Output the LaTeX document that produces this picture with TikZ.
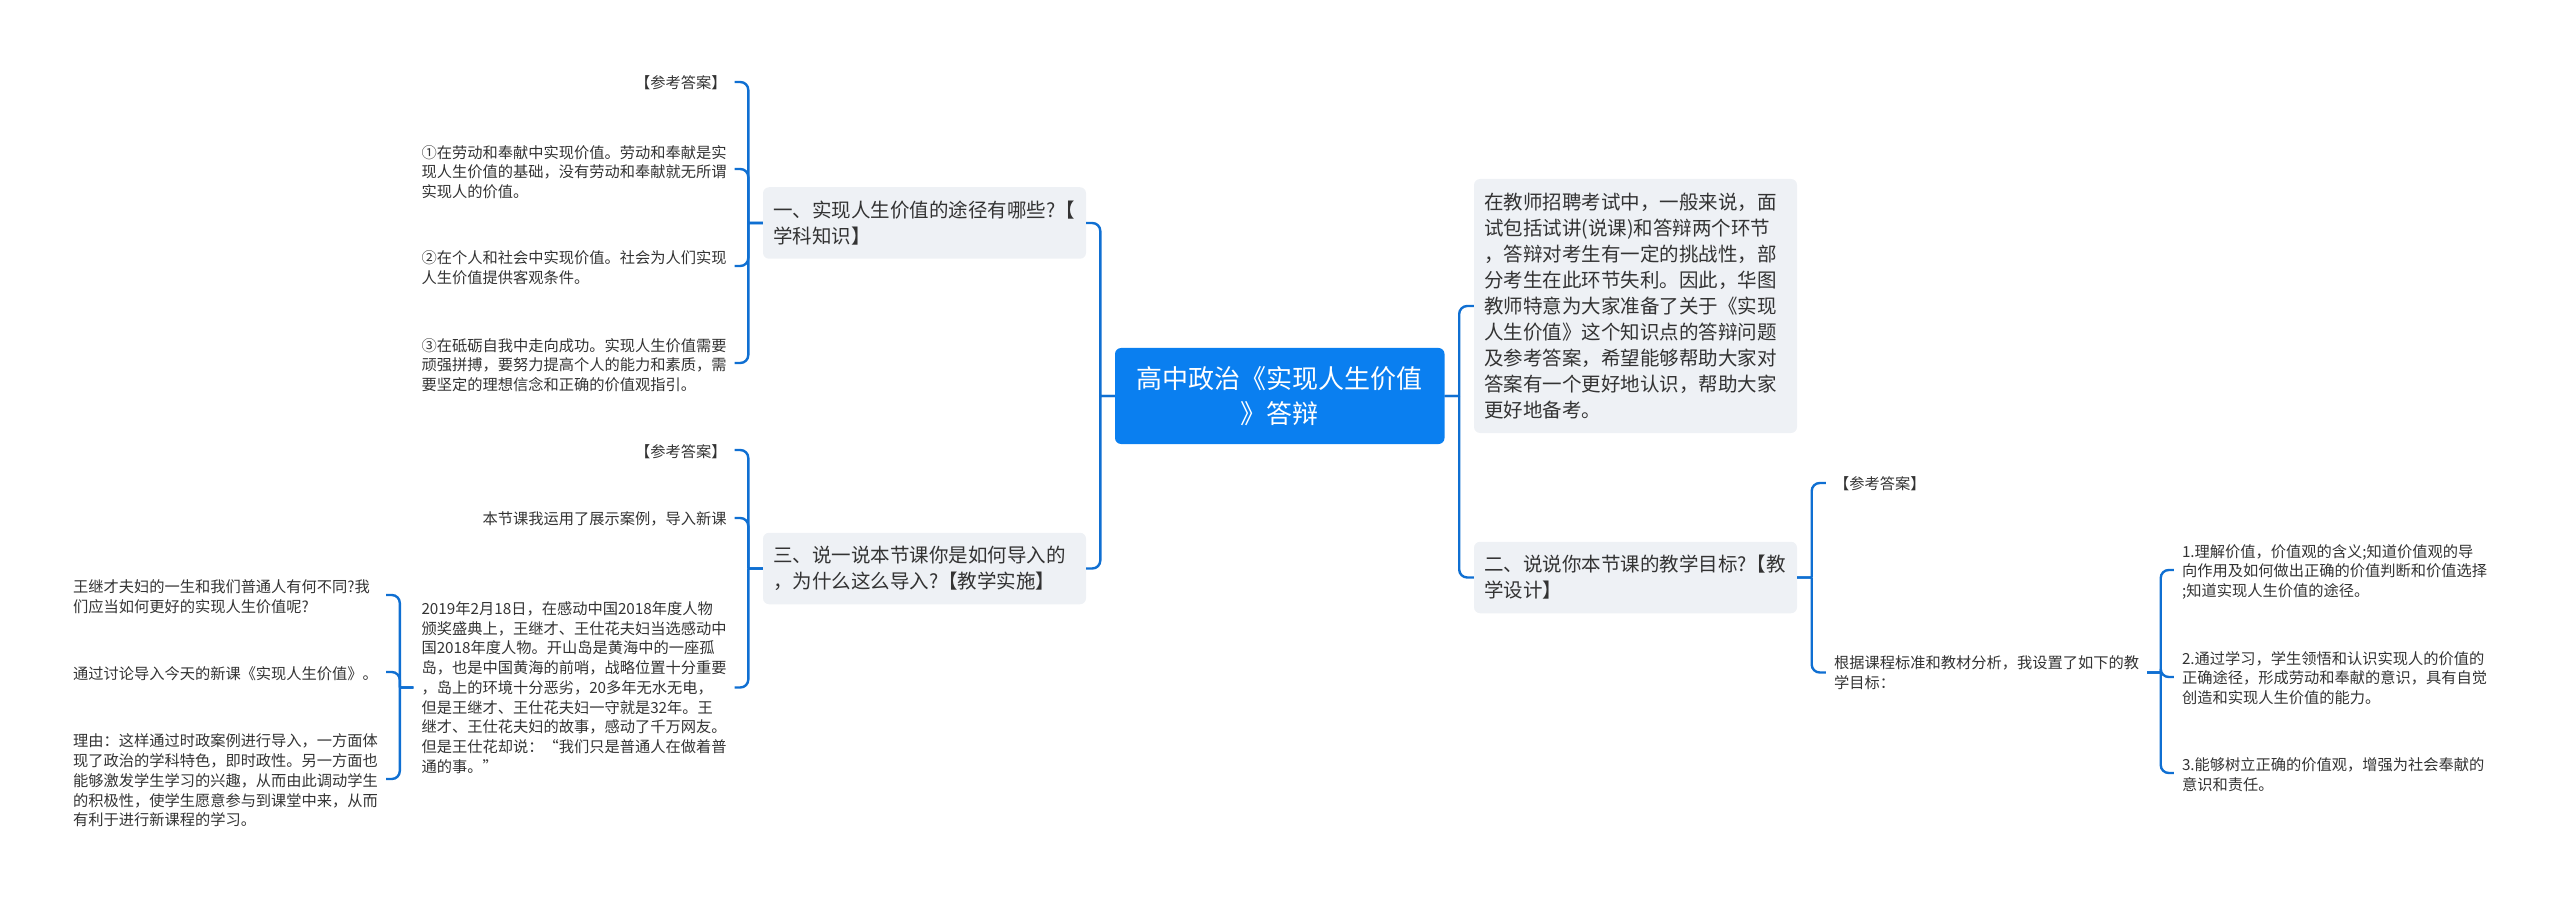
\documentclass[tikz,border=0pt]{standalone}
\usepackage{fontspec}
\setmainfont{Noto Sans CJK SC}
\definecolor{rootblue}{HTML}{0A7FF0}
\definecolor{linkblue}{HTML}{0F6FD2}
\definecolor{topicgray}{HTML}{EEF1F5}
\definecolor{inkgray}{HTML}{333333}
\newcommand{\zhc}{\symbol{"FF0C}}
\newcommand{\zhk}{\symbol{"FF1A}}

\begin{document}
\begin{tikzpicture}[x=1pt,y=-1pt,auto,
every edge/.style={draw=linkblue,line width=2.4pt},
fork/.style={to path={-- ++(#1,0) ++(0,0) [rounded corners=8pt] |- (\tikztotarget)}},
root node/.style={rectangle,rounded corners=6pt,fill=rootblue,text=white,align=center,text width=309.5pt,inner xsep=10pt,inner ysep=0pt,minimum height=96pt,font=\fontsize{26}{34.5}\selectfont},
topic node/.style={rectangle,rounded corners=6pt,fill=topicgray,text=inkgray,align=left,text width=303pt,inner xsep=10pt,inner ysep=0pt,minimum height=71.5pt,font=\fontsize{19.5}{26.1}\selectfont},
leaf node/.style={rectangle,text=inkgray,align=left,text width=305pt,inner xsep=8pt,inner ysep=0pt,font=\fontsize{15.25}{19.7}\selectfont}]
\useasboundingbox (0,0) rectangle (2560,901);

%Root
\node[root node] (root) at (1279.75,396) {高中政治《实现人生价值\\》答辩};

%Topics
\node[topic node] (t1) [left of=root,node distance=355.25pt,yshift=173pt] {一、实现人生价值的途径有哪些?【\\学科知识】};
\node[topic node] (t3) [left of=root,node distance=355.25pt,yshift=-172.5pt] {三、说一说本节课你是如何导入的\\\zhc{}为什么这么导入?【教学实施】};
\node[topic node,minimum height=254pt] (t0) [right of=root,node distance=355.75pt,yshift=90pt] {在教师招聘考试中\zhc{}一般来说\zhc{}面\\试包括试讲(说课)和答辩两个环节\\\zhc{}答辩对考生有一定的挑战性\zhc{}部\\分考生在此环节失利。因此\zhc{}华图\\教师特意为大家准备了关于《实现\\人生价值》这个知识点的答辩问题\\及参考答案\zhc{}希望能够帮助大家对\\答案有一个更好地认识\zhc{}帮助大家\\更好地备考。};
\node[topic node] (t2) [right of=root,node distance=355.75pt,yshift=-181.5pt] {二、说说你本节课的教学目标?【教\\学设计】};

%Topic 1
\node[leaf node,align=right] (a0) [left of=t1,node distance=350.5pt,yshift=140pt] {【参考答案】};
\node[leaf node] (a1) [left of=t1,node distance=350.5pt,yshift=51pt] {①在劳动和奉献中实现价值。劳动和奉献是实\\现人生价值的基础\zhc{}没有劳动和奉献就无所谓\\实现人的价值。};
\node[leaf node] (a2) [left of=t1,node distance=350.5pt,yshift=-45pt] {②在个人和社会中实现价值。社会为人们实现\\人生价值提供客观条件。};
\node[leaf node] (a3) [left of=t1,node distance=350.5pt,yshift=-142pt] {③在砥砺自我中走向成功。实现人生价值需要\\顽强拼搏\zhc{}要努力提高个人的能力和素质\zhc{}需\\要坚定的理想信念和正确的价值观指引。};

%Topic 3
\node[leaf node,align=right] (b0) [left of=t3,node distance=350.5pt,yshift=116.5pt] {【参考答案】};
\node[leaf node,align=right] (b1) [left of=t3,node distance=350.5pt,yshift=49.5pt] {本节课我运用了展示案例\zhc{}导入新课};
\node[leaf node] (b2) [left of=t3,node distance=350.5pt,yshift=-119pt] {2019年2月18日\zhc{}在感动中国2018年度人物\\颁奖盛典上\zhc{}王继才、王仕花夫妇当选感动中\\国2018年度人物。开山岛是黄海中的一座孤\\岛\zhc{}也是中国黄海的前哨\zhc{}战略位置十分重要\\\zhc{}岛上的环境十分恶劣\zhc{}20多年无水无电\zhc{}\\但是王继才、王仕花夫妇一守就是32年。王\\继才、王仕花夫妇的故事\zhc{}感动了千万网友。\\但是王仕花却说\zhk{}“我们只是普通人在做着普\\通的事。”};
\node[leaf node] (c0) [left of=b2,node distance=348.5pt,yshift=90.5pt] {王继才夫妇的一生和我们普通人有何不同?我\\们应当如何更好的实现人生价值呢?};
\node[leaf node] (c1) [left of=b2,node distance=348.5pt,yshift=13.5pt] {通过讨论导入今天的新课《实现人生价值》。};
\node[leaf node] (c2) [left of=b2,node distance=348.5pt,yshift=-93pt] {理由\zhk{}这样通过时政案例进行导入\zhc{}一方面体\\现了政治的学科特色\zhc{}即时政性。另一方面也\\能够激发学生学习的兴趣\zhc{}从而由此调动学生\\的积极性\zhc{}使学生愿意参与到课堂中来\zhc{}从而\\有利于进行新课程的学习。};

%Topic 2
\node[leaf node] (d0) [right of=t2,node distance=351pt,yshift=93.5pt] {【参考答案】};
\node[leaf node] (d1) [right of=t2,node distance=351pt,yshift=-95pt] {根据课程标准和教材分析\zhc{}我设置了如下的教\\学目标\zhk{}};
\node[leaf node] (e0) [right of=d1,node distance=348pt,yshift=100.5pt] {1.理解价值\zhc{}价值观的含义;知道价值观的导\\向作用及如何做出正确的价值判断和价值选择\\;知道实现人生价值的途径。};
\node[leaf node] (e1) [right of=d1,node distance=348pt,yshift=-5.5pt] {2.通过学习\zhc{}学生领悟和认识实现人的价值的\\正确途径\zhc{}形成劳动和奉献的意识\zhc{}具有自觉\\创造和实现人生价值的能力。};
\node[leaf node] (e2) [right of=d1,node distance=348pt,yshift=-102.5pt] {3.能够树立正确的价值观\zhc{}增强为社会奉献的\\意识和责任。};

%Paths
\path
(root.west) edge[fork=-14.5] (t1.east)
            edge[fork=-14.5] (t3.east)
(root.east) edge[fork=14.5] (t0.west)
            edge[fork=14.5] (t2.west)

(t1.west) edge[fork=-14.5] ([yshift=1pt]a0.east)
          edge[fork=-14.5] ([yshift=3pt]a1.east)
          edge[fork=-14.5] ([yshift=2pt]a2.east)
          edge[fork=-14.5] ([yshift=2pt]a3.east)

(t3.west) edge[fork=-14.5] ([yshift=2pt]b0.east)
          edge[fork=-14.5] ([yshift=1pt]b1.east)
          edge[fork=-14.5] (b2.east)
(b2.west) edge[fork=-13.5] ([yshift=2pt]c0.east)
          edge[fork=-13.5] ([yshift=2pt]c1.east)
          edge[fork=-13.5] ([yshift=1.5pt]c2.east)

(t2.east) edge[fork=14.5] ([yshift=1pt]d0.west)
          edge[fork=14.5] (d1.west)
(d1.east) edge[fork=13.5] ([yshift=2pt]e0.west)
          edge[fork=13.5] ([yshift=1pt]e1.west)
          edge[fork=13.5] ([yshift=2pt]e2.west)
;
\end{tikzpicture}
\end{document}
